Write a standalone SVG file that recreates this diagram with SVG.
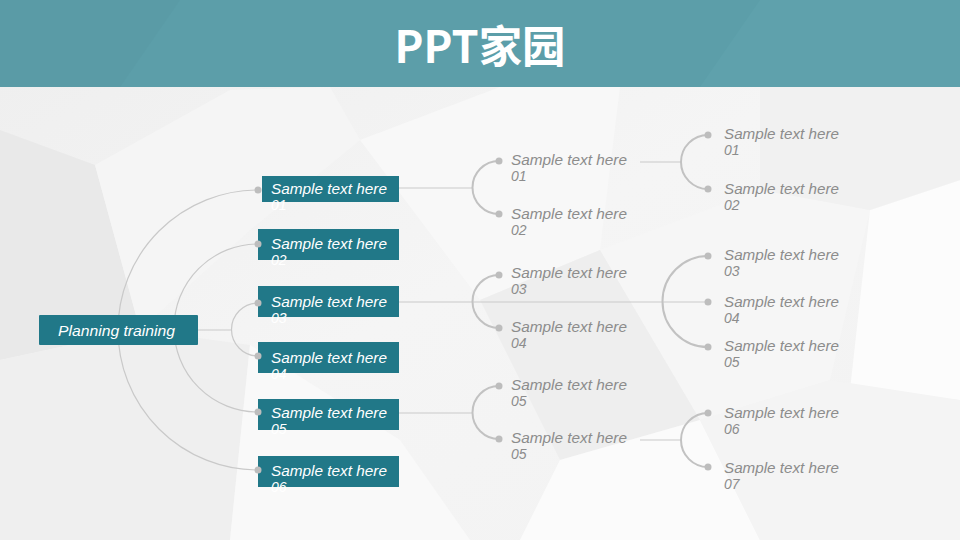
<svg xmlns="http://www.w3.org/2000/svg" width="960" height="540" viewBox="0 0 960 540">
<defs>
<linearGradient id="bg" x1="0" y1="0" x2="1" y2="1">
<stop offset="0" stop-color="#eeeeee"/>
<stop offset="0.5" stop-color="#f5f5f5"/>
<stop offset="1" stop-color="#f2f2f2"/>
</linearGradient>
<style>
.box{fill:#217888;}
.wt{fill:#ffffff;font-family:"Liberation Sans","DejaVu Sans",sans-serif;font-style:italic;font-size:14px;}
.gt{fill:#8c8c8c;font-family:"Liberation Sans","DejaVu Sans",sans-serif;font-style:italic;font-size:14px;}
.thin{fill:none;stroke:#c9c9c9;stroke-width:1.2;}
.arc{fill:none;stroke:#c2c2c2;stroke-width:2;}
.dot{fill:#bdbdbd;}
.poly{stroke:none;}
</style>
</defs>
<rect width="960" height="540" fill="url(#bg)"/>
<g id="background">
<polygon class="poly" points="0,130 95,165 140,330 0,360" fill="#e9e9e9"/>
<polygon class="poly" points="95,165 230,90 330,87 360,140 250,230 140,330" fill="#f5f5f5"/>
<polygon class="poly" points="0,360 140,330 250,345 230,540 0,540" fill="#efefef"/>
<polygon class="poly" points="250,345 400,440 470,540 230,540" fill="#f9f9f9"/>
<polygon class="poly" points="360,140 500,87 620,87 600,250 480,300 420,220" fill="#f8f8f8"/>
<polygon class="poly" points="600,250 760,190 870,210 830,380 700,420" fill="#f6f6f6"/>
<polygon class="poly" points="480,300 600,250 700,420 560,460" fill="#eeeeee"/>
<polygon class="poly" points="560,460 700,420 760,540 520,540" fill="#fbfbfb"/>
<polygon class="poly" points="870,210 960,180 960,400 850,390" fill="#fcfcfc"/>
<polygon class="poly" points="760,87 960,87 960,180 870,210 760,190" fill="#f1f1f1"/>
<polygon class="poly" points="830,380 960,400 960,540 760,540 700,420" fill="#f4f4f4"/>
</g>
<g id="header">
<rect x="0" y="0" width="960" height="87" fill="#5c9ea9"/>
<polygon points="0,0 180,0 120,87 0,87" fill="#5a9ba6"/>
<polygon points="760,0 960,0 960,87 700,87" fill="#5fa1ac"/>
<text x="480" y="63" text-anchor="middle" font-family="'Noto Sans CJK SC','Noto Sans',sans-serif" font-weight="bold" font-size="44" fill="#ffffff" textLength="171" lengthAdjust="spacingAndGlyphs">PPT家园</text>
</g>
<g id="connectors">
<path class="thin" d="M258,190 A140,140 0 0 0 258,470"/>
<path class="thin" d="M258,244 A84,84 0 0 0 258,412"/>
<path class="thin" d="M258,303 A26.5,26.5 0 0 0 258,356"/>
<path class="thin" d="M198,330 H232"/>
<path class="thin" d="M399,188 H472"/>
<path class="thin" d="M399,302 H708"/>
<path class="thin" d="M399,413 H472"/>
<path class="arc" d="M499,161 A26.5,26.5 0 0 0 499,214"/>
<path class="arc" d="M499,275 A26.5,26.5 0 0 0 499,328"/>
<path class="arc" d="M499,386 A26.5,26.5 0 0 0 499,439"/>
<path class="thin" d="M640,162 H682"/>
<path class="thin" d="M640,440 H682"/>
<path class="arc" d="M708,135 A27,27 0 0 0 708,189"/>
<path class="arc" d="M708,256 A45.5,45.5 0 0 0 708,347"/>
<path class="arc" d="M708,413 A27,27 0 0 0 708,467"/>
</g>
<g id="root">
<rect class="box" x="39" y="315" width="159" height="30" rx="1"/>
<text class="wt" x="58" y="336" textLength="117" lengthAdjust="spacingAndGlyphs">Planning training</text>
</g>
<g id="l1-01">
<rect class="box" x="262" y="176" width="137" height="26"/>
<circle class="dot" cx="258" cy="190" r="3.5"/>
<text class="wt" x="271" y="194" textLength="116" lengthAdjust="spacingAndGlyphs">Sample text here</text>
<text class="wt" x="271" y="210">01</text>
</g>
<g id="l1-02">
<rect class="box" x="258" y="229" width="141" height="31"/>
<circle class="dot" cx="258" cy="244" r="3.5"/>
<text class="wt" x="271" y="249" textLength="116" lengthAdjust="spacingAndGlyphs">Sample text here</text>
<text class="wt" x="271" y="265">02</text>
</g>
<g id="l1-03">
<rect class="box" x="258" y="286" width="141" height="31"/>
<circle class="dot" cx="258" cy="303" r="3.5"/>
<text class="wt" x="271" y="307" textLength="116" lengthAdjust="spacingAndGlyphs">Sample text here</text>
<text class="wt" x="271" y="323">03</text>
</g>
<g id="l1-04">
<rect class="box" x="258" y="342" width="141" height="31"/>
<circle class="dot" cx="258" cy="356" r="3.5"/>
<text class="wt" x="271" y="363" textLength="116" lengthAdjust="spacingAndGlyphs">Sample text here</text>
<text class="wt" x="271" y="379">04</text>
</g>
<g id="l1-05">
<rect class="box" x="258" y="399" width="141" height="31"/>
<circle class="dot" cx="258" cy="412" r="3.5"/>
<text class="wt" x="271" y="418" textLength="116" lengthAdjust="spacingAndGlyphs">Sample text here</text>
<text class="wt" x="271" y="434">05</text>
</g>
<g id="l1-06">
<rect class="box" x="258" y="456" width="141" height="31"/>
<circle class="dot" cx="258" cy="470" r="3.5"/>
<text class="wt" x="271" y="476" textLength="116" lengthAdjust="spacingAndGlyphs">Sample text here</text>
<text class="wt" x="271" y="492">06</text>
</g>
<g id="l2-01">
<circle class="dot" cx="499" cy="161" r="3.5"/>
<text class="gt" x="511" y="165" textLength="116" lengthAdjust="spacingAndGlyphs">Sample text here</text>
<text class="gt" x="511" y="181">01</text>
</g>
<g id="l2-02">
<circle class="dot" cx="499" cy="214" r="3.5"/>
<text class="gt" x="511" y="219" textLength="116" lengthAdjust="spacingAndGlyphs">Sample text here</text>
<text class="gt" x="511" y="235">02</text>
</g>
<g id="l2-03">
<circle class="dot" cx="499" cy="275" r="3.5"/>
<text class="gt" x="511" y="278" textLength="116" lengthAdjust="spacingAndGlyphs">Sample text here</text>
<text class="gt" x="511" y="294">03</text>
</g>
<g id="l2-04">
<circle class="dot" cx="499" cy="328" r="3.5"/>
<text class="gt" x="511" y="332" textLength="116" lengthAdjust="spacingAndGlyphs">Sample text here</text>
<text class="gt" x="511" y="348">04</text>
</g>
<g id="l2-05a">
<circle class="dot" cx="499" cy="386" r="3.5"/>
<text class="gt" x="511" y="390" textLength="116" lengthAdjust="spacingAndGlyphs">Sample text here</text>
<text class="gt" x="511" y="406">05</text>
</g>
<g id="l2-05b">
<circle class="dot" cx="499" cy="439" r="3.5"/>
<text class="gt" x="511" y="443" textLength="116" lengthAdjust="spacingAndGlyphs">Sample text here</text>
<text class="gt" x="511" y="459">05</text>
</g>
<g id="l3-01">
<circle class="dot" cx="708" cy="135" r="3.5"/>
<text class="gt" x="724" y="139" textLength="115" lengthAdjust="spacingAndGlyphs">Sample text here</text>
<text class="gt" x="724" y="155">01</text>
</g>
<g id="l3-02">
<circle class="dot" cx="708" cy="189" r="3.5"/>
<text class="gt" x="724" y="194" textLength="115" lengthAdjust="spacingAndGlyphs">Sample text here</text>
<text class="gt" x="724" y="210">02</text>
</g>
<g id="l3-03">
<circle class="dot" cx="708" cy="256" r="3.5"/>
<text class="gt" x="724" y="260" textLength="115" lengthAdjust="spacingAndGlyphs">Sample text here</text>
<text class="gt" x="724" y="276">03</text>
</g>
<g id="l3-04">
<circle class="dot" cx="708" cy="302" r="3.5"/>
<text class="gt" x="724" y="307" textLength="115" lengthAdjust="spacingAndGlyphs">Sample text here</text>
<text class="gt" x="724" y="323">04</text>
</g>
<g id="l3-05">
<circle class="dot" cx="708" cy="347" r="3.5"/>
<text class="gt" x="724" y="351" textLength="115" lengthAdjust="spacingAndGlyphs">Sample text here</text>
<text class="gt" x="724" y="367">05</text>
</g>
<g id="l3-06">
<circle class="dot" cx="708" cy="413" r="3.5"/>
<text class="gt" x="724" y="418" textLength="115" lengthAdjust="spacingAndGlyphs">Sample text here</text>
<text class="gt" x="724" y="434">06</text>
</g>
<g id="l3-07">
<circle class="dot" cx="708" cy="467" r="3.5"/>
<text class="gt" x="724" y="473" textLength="115" lengthAdjust="spacingAndGlyphs">Sample text here</text>
<text class="gt" x="724" y="489">07</text>
</g>
</svg>
